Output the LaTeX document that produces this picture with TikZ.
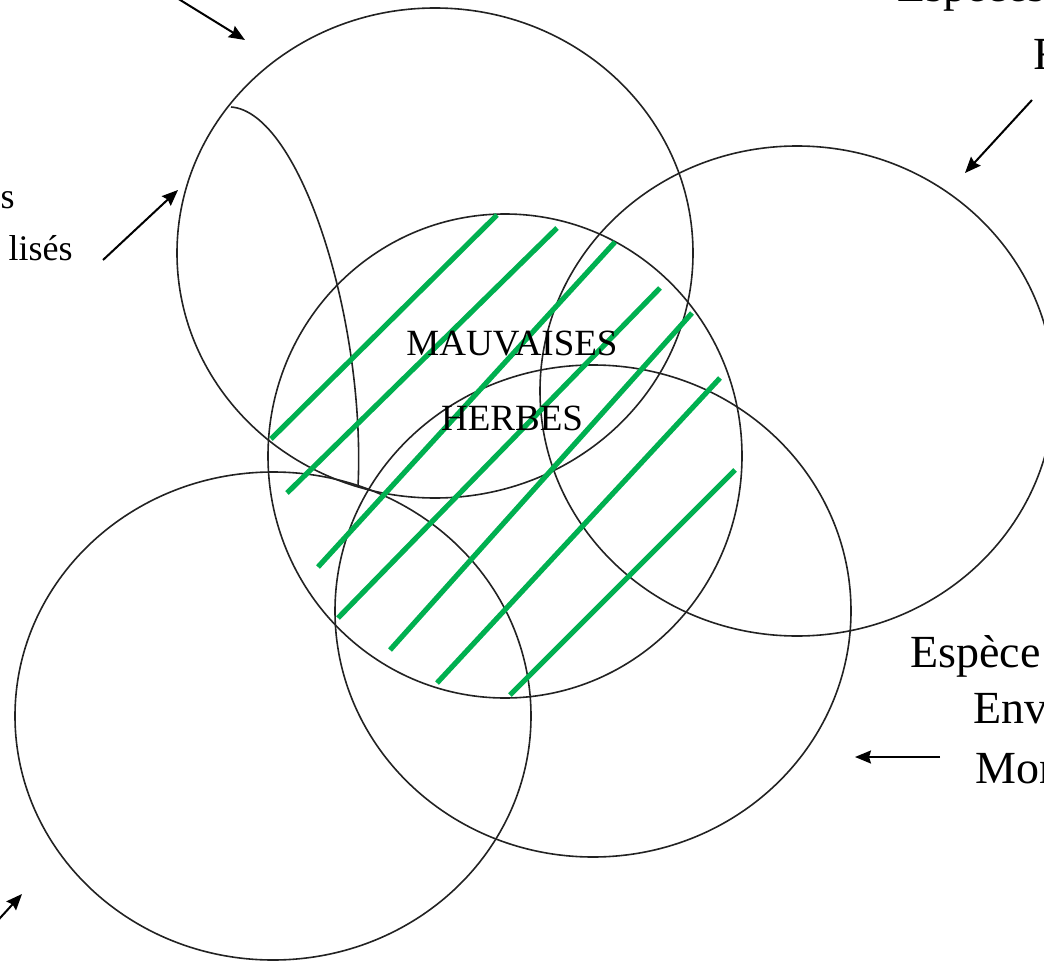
\documentclass[tikz,border=0pt]{standalone}
\usepackage{fontspec}
\setmainfont{Liberation Serif}
\usetikzlibrary{positioning, arrows.meta}
\definecolor{hGreen}{HTML}{00B050}
\definecolor{cLine}{HTML}{222222}

\begin{document}
\begin{tikzpicture}[
  x=0.5pt, y=-0.5pt,
  every node/.style={inner sep=0pt, font=\fontsize{23}{27}\selectfont},
  ring/.style={draw=cLine, line width=0.8pt},
  hatch/.style={hGreen, line width=2.6pt},
  pointer/.style={line width=1pt, -{Stealth[length=8pt, width=6.5pt, inset=1pt]}},
]
  \useasboundingbox (0,0) rectangle (1044,963);

  % Circles
  \draw[ring] (435,253) ellipse [x radius=258, y radius=245];
  \draw[ring] (797,391) ellipse [x radius=257, y radius=245];
  \draw[ring] (505,456) ellipse [x radius=237, y radius=242];
  \draw[ring] (593,611) ellipse [x radius=258, y radius=246];
  \draw[ring] (273,716) ellipse [x radius=258, y radius=244];
  % Narrow lens inside the top circle
  \draw[ring] (231,107) .. controls (300,112) and (366,320) .. (358,487);

  % Hatching
  \foreach \ax/\ay/\bx/\by in {271/439/497/215, 287/493/557/228, 318/567/615/242,
      338/618/660/288, 390/650/692/313, 437/683/720/378, 510/695/735/470}
    \draw[hatch] (\ax,\ay) -- (\bx,\by);

  % Middle text
  \node[anchor=base, font=\fontsize{18.5}{22}\selectfont] (weedsA) at (512,355) {MAUVAISES};
  \node[anchor=base, font=\fontsize{18.5}{22}\selectfont] (weedsB) at (512,430) {HERBES};

  % Side labels
  \node[anchor=base west] (topLabelA) at (897,2) {Espèces};
  \node[anchor=base west] (topLabelB) at (1033,70) {F};
  \node[anchor=base east, font=\fontsize{18}{22}\selectfont] (leftLabelA) at (15,208) {s};
  \node[anchor=base east, font=\fontsize{18}{22}\selectfont] (leftLabelB) at (73,260) {lisés};
  \node[anchor=base west] (rightLabelA) at (910,667) {Espèce};
  \node[anchor=base west] (rightLabelB) at (973,723) {Env};
  \node[anchor=base west] (rightLabelC) at (975,783) {Mon};

  % Arrows
  \coordinate (tlTail) at (164,-10);
  \coordinate (tlHead) at (245,40);
  \coordinate (lTail) at (103,260);
  \coordinate (lHead) at (178,190);
  \coordinate (trTail) at (1032,100);
  \coordinate (trHead) at (965,173);
  \coordinate (rTail) at (940,757);
  \coordinate (rHead) at (855,757);
  \coordinate (blTail) at (-10,929);
  \coordinate (blHead) at (22,894);
  \draw[pointer] (tlTail) -- (tlHead);
  \draw[pointer] (lTail) -- (lHead);
  \draw[pointer] (trTail) -- (trHead);
  \draw[pointer] (rTail) -- (rHead);
  \draw[pointer] (blTail) -- (blHead);
\end{tikzpicture}
\end{document}
